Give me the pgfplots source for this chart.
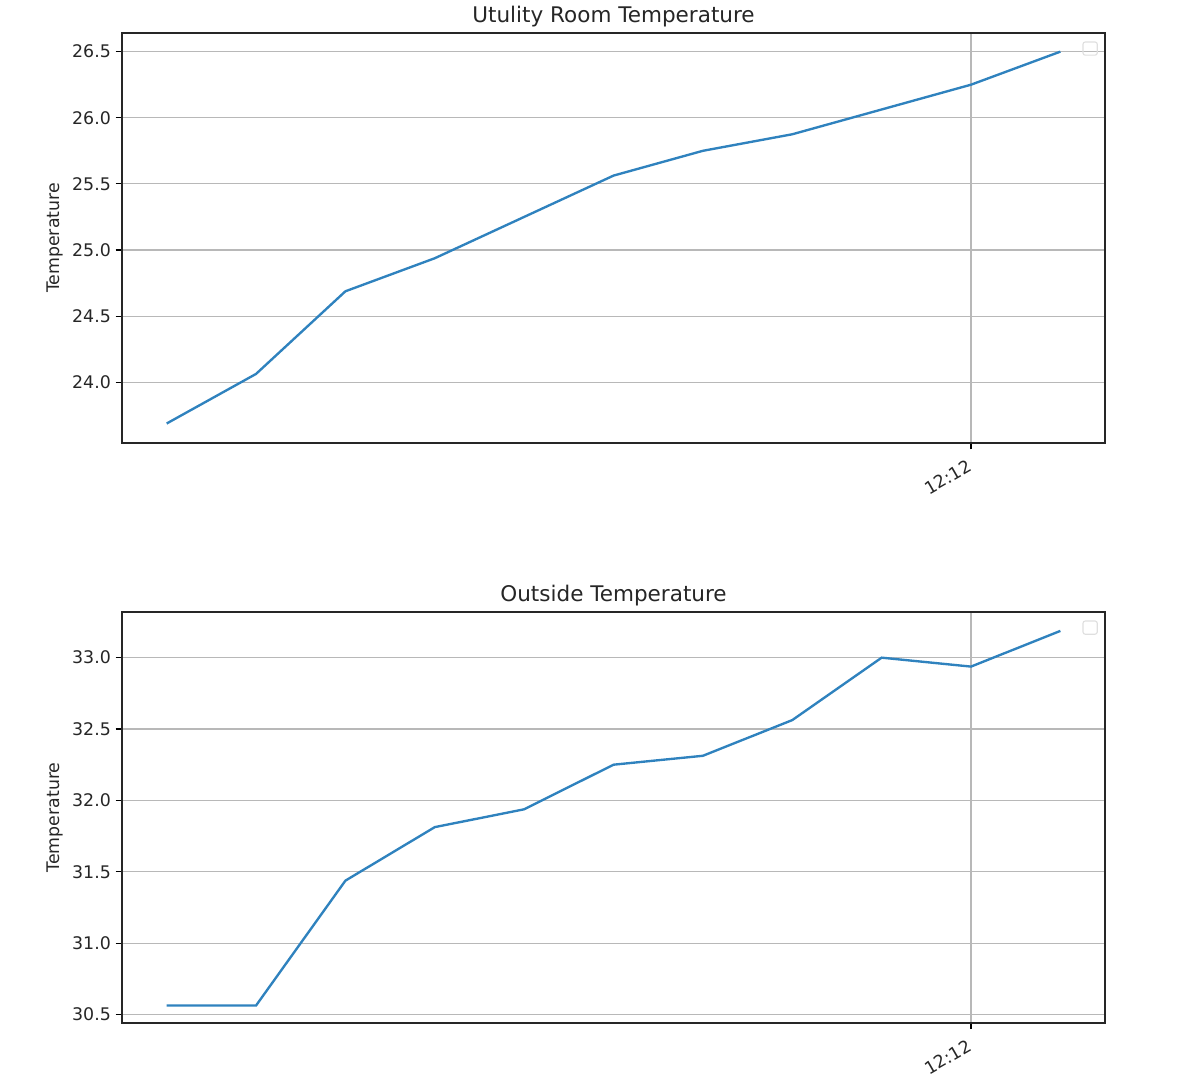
\documentclass[border=0pt]{standalone}
\usepackage{pgfplots}
\pgfplotsset{compat=1.18}
\usepackage{fontspec}
\setmainfont{DejaVu Sans}
\definecolor{mplblue}{HTML}{2F82BE}
\definecolor{gridgray}{HTML}{B8B8B8}
\definecolor{txt}{HTML}{262626}
\pgfplotstableread{
x y
0 23.6875
1 24.0625
2 24.6875
3 24.9375
4 25.25
5 25.5625
6 25.75
7 25.875
8 26.0625
9 26.25
10 26.5
}\utility
\pgfplotstableread{
x y
0 30.5625
1 30.5625
2 31.4375
3 31.8125
4 31.9375
5 32.25
6 32.3125
7 32.5625
8 33.0
9 32.9375
10 33.1875
}\outside
\pgfplotsset{
  mystyle/.style={
    scale only axis,
    width=707.8pt,
    anchor=north west,
    xmin=-0.5, xmax=10.5,
    xtick={9}, xticklabels={12:12},
    xticklabel style={rotate=30, anchor=north east, font=\fontsize{12.5}{14}\selectfont, text=txt, xshift=-3pt, yshift=-1pt},
    yticklabel style={font=\fontsize{12.5}{14}\selectfont, text=txt},
    /pgf/number format/assume math mode=true,
    /pgf/number format/.cd, fixed, fixed zerofill, precision=1, /pgfplots/.cd,
    grid=major,
    major grid style={gridgray, line width=0.8pt},
    axis line style={black!85, line width=0.9pt},
    tick style={black, line width=0.8pt},
    major tick length=4.5pt,
    tick align=outside,
    xtick pos=bottom, ytick pos=left,
    ylabel={Temperature},
    ylabel style={font=\fontsize{12.5}{14}\selectfont, text=txt, yshift=0pt},
    title style={font=\fontsize{15.5}{18}\selectfont, text=txt, yshift=-5.5pt},
  }
}
\begin{document}
\begin{tikzpicture}
\useasboundingbox (0,0) rectangle (864pt,-775.44pt);
\begin{axis}[mystyle, at={(87.84pt,-23.76pt)}, height=295.2pt,
  ymin=23.54, ymax=26.641, ytick={24.0,24.5,25.0,25.5,26.0,26.5},
  title={Utulity Room Temperature}]
\addplot[mplblue, line width=1.7pt] table[x=x,y=y] {\utility};
\draw[gray!25, line width=0.8pt, rounded corners=1.5pt] (rel axis cs:0.9776,0.946) rectangle (rel axis cs:0.992,0.978);
\end{axis}
\begin{axis}[mystyle, at={(87.84pt,-440.64pt)}, height=295.9pt,
  ymin=30.44, ymax=33.32, ytick={30.5,31.0,31.5,32.0,32.5,33.0},
  title={Outside Temperature}]
\addplot[mplblue, line width=1.7pt] table[x=x,y=y] {\outside};
\draw[gray!25, line width=0.8pt, rounded corners=1.5pt] (rel axis cs:0.9776,0.946) rectangle (rel axis cs:0.992,0.978);
\end{axis}
\end{tikzpicture}
\end{document}
